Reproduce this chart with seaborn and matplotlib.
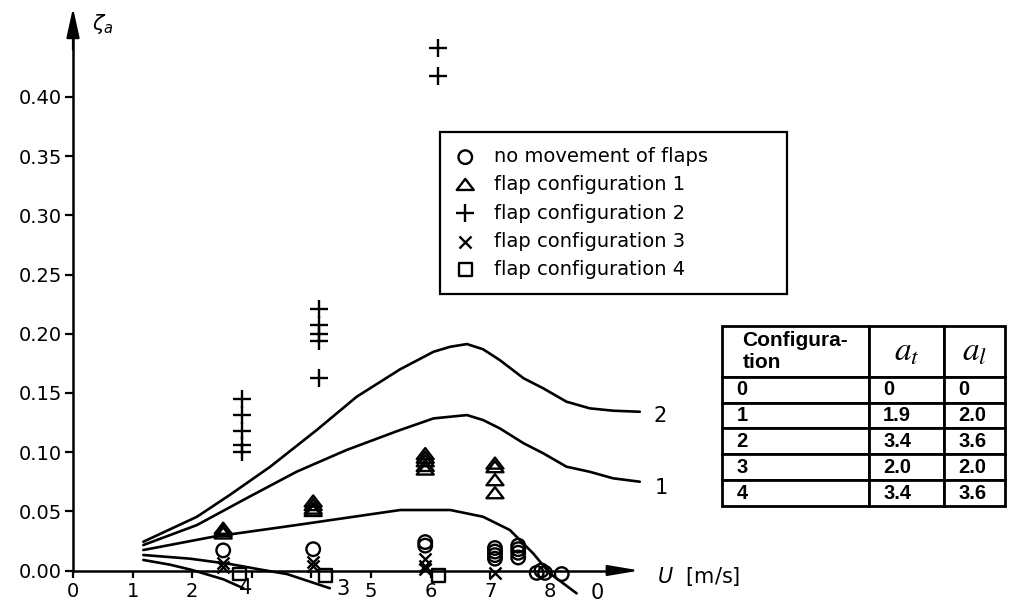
import numpy as np
import pandas as pd
import matplotlib
matplotlib.use("Agg")
import matplotlib.pyplot as plt
import matplotlib.path as mpath
import seaborn as sns

# ---------------- data ----------------
# theoretical curves (configuration number -> points)
curve0_x = [1.18, 2.35, 3.75, 5.49, 6.33, 6.88, 7.33, 7.72, 8.00, 8.45]
curve0_y = [0.0173, 0.0285, 0.0384, 0.0511, 0.0511, 0.0454, 0.0342, 0.0145, -0.0024, -0.0193]
curve1_x = [1.18, 2.08, 2.91, 3.75, 4.59, 5.49, 6.05, 6.61, 6.88, 7.16, 7.56, 7.89, 8.28, 8.67, 9.06, 9.51]
curve1_y = [0.0215, 0.0384, 0.061, 0.0834, 0.1018, 0.1187, 0.1285, 0.1313, 0.1271, 0.1201, 0.1075, 0.099, 0.0877, 0.0834, 0.0779, 0.075]
curve2_x = [1.18, 2.08, 2.63, 3.31, 4.09, 4.76, 5.49, 6.05, 6.33, 6.61, 6.88, 7.16, 7.56, 7.89, 8.28, 8.67, 9.06, 9.51]
curve2_y = [0.0243, 0.0454, 0.0638, 0.0877, 0.1187, 0.1468, 0.170, 0.1848, 0.189, 0.1913, 0.1869, 0.1778, 0.1624, 0.1539, 0.1426, 0.137, 0.135, 0.1341]
curve3_x = [1.18, 1.96, 2.63, 3.19, 3.59, 4.31]
curve3_y = [0.0131, 0.0100, 0.0055, 0.0004, -0.0030, -0.0150]
curve4_x = [1.18, 1.63, 2.00, 2.52, 2.86]
curve4_y = [0.0089, 0.0049, 0.0004, -0.0074, -0.0150]

curve_labels = ["0", "1", "2", "3", "4"]
curve_label_x = [8.79, 9.87, 9.85, 4.53, 2.90]
curve_label_y = [-0.0190, 0.0697, 0.1305, -0.0156, -0.0148]

# measurements
circ_x = [2.52, 4.03, 5.91, 5.91, 7.08, 7.08, 7.08, 7.08, 7.47, 7.47, 7.47, 7.47, 7.78, 7.86, 7.92, 8.20]
circ_y = [0.017, 0.018, 0.024, 0.021, 0.019, 0.016, 0.013, 0.010, 0.021, 0.018, 0.015, 0.011, -0.002, 0.000, -0.002, -0.003]
tri_x = [2.52, 2.52, 2.52, 4.03, 4.03, 4.03, 4.03, 5.91, 5.91, 5.91, 5.91, 5.91, 7.08, 7.08, 7.08, 7.08]
tri_y = [0.035, 0.033, 0.031, 0.058, 0.055, 0.052, 0.050, 0.098, 0.095, 0.092, 0.088, 0.085, 0.090, 0.087, 0.076, 0.065]
plus_x = [2.83, 2.83, 2.83, 2.83, 2.83, 4.12, 4.12, 4.12, 4.12, 4.12, 6.13, 6.13]
plus_y = [0.145, 0.131, 0.118, 0.106, 0.100, 0.221, 0.207, 0.200, 0.194, 0.163, 0.441, 0.418]
cross_x = [2.52, 2.52, 4.03, 4.03, 5.91, 5.91, 5.91, 7.08]
cross_y = [0.006, 0.003, 0.007, 0.004, 0.010, 0.004, 0.001, -0.002]
sq_x = [2.80, 4.23, 6.13]
sq_y = [-0.003, -0.004, -0.004]

legend_labels = ["no movement of flaps", "flap configuration 1", "flap configuration 2",
                 "flap configuration 3", "flap configuration 4"]

x_ticks = [0, 1, 2, 3, 4, 5, 6, 7, 8]
x_ticklabels = ["0", "1", "2", "", "", "5", "6", "7", "8"]
y_ticks = [0.00, 0.05, 0.10, 0.15, 0.20, 0.25, 0.30, 0.35, 0.40]
y_ticklabels = ["0.00", "0.05", "0.10", "0.15", "0.20", "0.25", "0.30", "0.35", "0.40"]

table_header = ["Configura-\ntion", r"$a_t$", r"$a_l$"]
table_config = ["0", "1", "2", "3", "4"]
table_at = ["0", "1.9", "3.4", "2.0", "3.4"]
table_al = ["0", "2.0", "3.6", "2.0", "3.6"]

# ---------------- style ----------------
sns.set_style("ticks")
plt.rcParams["font.family"] = ["DejaVu Sans"]
plt.rcParams["axes.linewidth"] = 1.5
for key in ["text.color", "axes.labelcolor", "xtick.color", "ytick.color", "axes.edgecolor"]:
    plt.rcParams[key] = "black"

W, H = 1009, 606
fig = plt.figure(figsize=(W / 100, H / 100), dpi=100)
ax = fig.add_axes([0, 0, 1, 1])
fig.patch.set_facecolor("white")
ax.set_facecolor("white")

# pixel mapping: x=0 at px 73, 59.6 px/unit ; y=0 at px 570.5, 1183.75 px/unit
ax.set_xlim(-73 / 59.6, (W - 73) / 59.6)
ax.set_ylim((570.5 - H) / 1183.75, 570.5 / 1183.75)

# curves
for cx, cy in [(curve0_x, curve0_y), (curve1_x, curve1_y), (curve2_x, curve2_y),
               (curve3_x, curve3_y), (curve4_x, curve4_y)]:
    sns.lineplot(x=cx, y=cy, ax=ax, color="black", lw=1.9, sort=False, estimator=None)

for lab, lx, ly in zip(curve_labels, curve_label_x, curve_label_y):
    ax.text(lx, ly, lab, ha="center", va="center", fontsize=15, color="black")

# markers
tri_path = mpath.Path([(-1, -0.55), (1, -0.55), (0, 0.75), (-1, -0.55)], closed=True)
series = [
    (circ_x, circ_y, "o", 95, True),
    (tri_x, tri_y, tri_path, 150, True),
    (plus_x, plus_y, "+", 150, False),
    (cross_x, cross_y, "x", 75, False),
    (sq_x, sq_y, "s", 85, True),
]
for (sx, sy, m, s, filled), lab in zip(series, legend_labels):
    if filled:
        sns.scatterplot(x=sx, y=sy, ax=ax, marker=m, s=s, facecolor="none",
                        edgecolor="black", linewidth=1.7, label=lab, zorder=3)
    else:
        sns.scatterplot(x=sx, y=sy, ax=ax, marker=m, s=s, color="black",
                        linewidth=1.7, label=lab, zorder=3)

# axes / spines
for side in ["top", "right"]:
    ax.spines[side].set_visible(False)
ax.spines["left"].set_position(("data", 0))
ax.spines["bottom"].set_position(("data", 0))
ax.spines["left"].set_bounds(0, 0.46)
ax.spines["bottom"].set_bounds(0, 9.2)
ax.spines["left"].set_linewidth(1.8)
ax.spines["bottom"].set_linewidth(1.8)
ax.annotate("", xy=(0, 0.4752), xytext=(0, 0.44),
            arrowprops=dict(arrowstyle="-|>,head_length=0.9,head_width=0.2",
                            color="black", lw=1.6, mutation_scale=20, shrinkA=0, shrinkB=0))
ax.annotate("", xy=(9.51, 0), xytext=(9.0, 0),
            arrowprops=dict(arrowstyle="-|>,head_length=0.95,head_width=0.16",
                            color="black", lw=1.6, mutation_scale=20, shrinkA=0, shrinkB=0))

ax.set_xticks(x_ticks)
ax.set_xticklabels(x_ticklabels)
ax.set_yticks(y_ticks)
ax.set_yticklabels(y_ticklabels)
ax.tick_params(axis="x", direction="out", length=5, width=1.6, pad=3, labelsize=14,
               bottom=True, colors="black")
ax.tick_params(axis="y", direction="out", length=6, width=1.6, pad=2, labelsize=14,
               left=True, colors="black")
ax.set_xlabel("")
ax.set_ylabel("")
ax.grid(False)

# axis titles
ax.text(0.32, 0.4617, r"$\zeta_a$", fontsize=15, ha="left", va="center")
ax.text(9.80, -0.0050, r"$U$  [m/s]", fontsize=15, ha="left", va="center")

# legend
leg = ax.legend(loc="upper left",
                bbox_to_anchor=(440 / W, 1 - 131.7 / H, (786.7 - 440) / W, 0.0),
                bbox_transform=ax.transAxes, mode="expand", borderaxespad=0,
                fontsize=14, frameon=True, fancybox=False, framealpha=1,
                edgecolor="black", handlelength=1.0, handletextpad=0.96,
                borderpad=0.8, labelspacing=0.47)
leg.get_frame().set_linewidth(1.6)
for txt in leg.get_texts():
    txt.set_color("black")

# table
cell_text = [[c, a, b] for c, a, b in zip(table_config, table_at, table_al)]
tab = ax.table(cellText=cell_text, colLabels=table_header,
               colWidths=[147.3, 75, 61], cellLoc="left",
               bbox=[721.7 / W, 1 - 506 / H, (1005 - 721.7) / W, 180 / H])
tab.auto_set_font_size(False)
cells = tab.get_celld()
base_h = cells[(1, 0)].get_height()
pads_header = [0.10, 0.25, 0.33]
pads_body = [0.10, 0.187, 0.23]
for (r, c), cell in cells.items():
    cell.set_linewidth(2.0)
    cell.set_edgecolor("black")
    t = cell.get_text()
    t.set_color("black")
    if r == 0:
        cell.set_height(base_h * 1.96)
        cell.PAD = pads_header[c]
        if c == 0:
            t.set_fontsize(15)
            t.set_fontweight("bold")
            t.set_family("Liberation Sans")
            t.set_multialignment("left")
            t.set_linespacing(1.2)
        else:
            t.set_fontsize(24)
            t.set_math_fontfamily("stix")
    else:
        cell.PAD = pads_body[c]
        t.set_fontsize(14.5)
        t.set_fontweight("bold")
        t.set_family("Liberation Sans")

fig.savefig("out.png", dpi=100, facecolor="white")
